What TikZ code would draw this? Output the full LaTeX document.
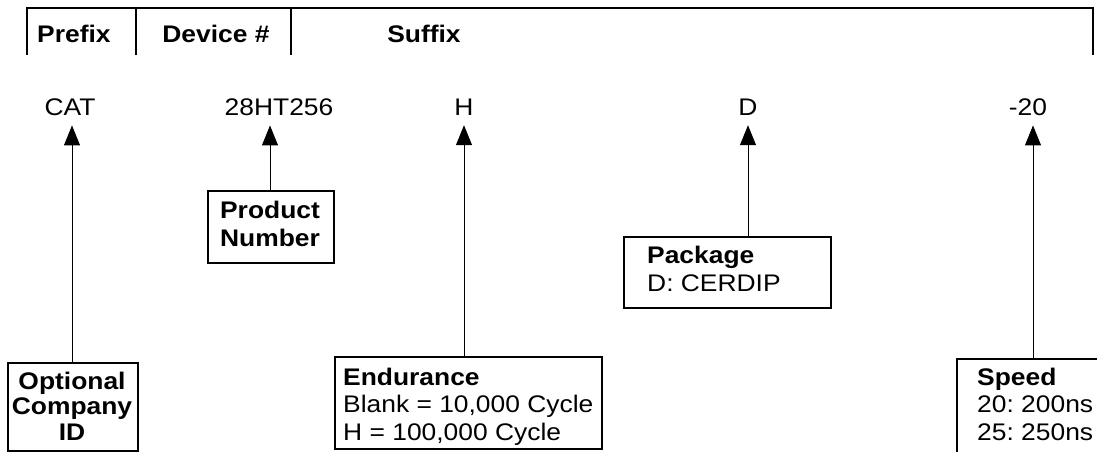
\documentclass[tikz,border=0pt]{standalone}
\usepackage{fontspec}
\setmainfont{Liberation Sans}[FakeStretch=1.1]
\usetikzlibrary{arrows.meta}
\begin{document}
\frenchspacing
\begin{tikzpicture}[x=1pt,y=-1pt,
  txt/.style={font=\fontsize{24}{27}\selectfont, inner sep=0pt, anchor=base west},
  btxt/.style={font=\fontsize{24}{27}\selectfont\bfseries, inner sep=0pt, anchor=base west},
  ctr/.style={font=\fontsize{24}{27}\selectfont\bfseries, inner sep=0pt, anchor=base},
  code/.style={font=\fontsize{24}{27}\selectfont, inner sep=0pt, anchor=base},
  rule/.style={line width=2.6pt},
  frame/.style={draw, line width=2pt, inner sep=0pt, anchor=north west},
  boxline/.style={line width=2pt},
  arr/.style={-{Triangle[length=20pt,width=16pt]}, line width=1pt, shorten >=10pt}]
\useasboundingbox (0,0) rectangle (1097,452);
% header
\draw[rule] (27,55) -- (27,8) -- (1093,8) -- (1093,55);
\draw[rule] (136,8) -- (136,55);
\draw[rule] (291,8) -- (291,55);
\node[btxt] (prefix) at (37,43) {Prefix};
\node[ctr] (device) at (216,43) {Device \#};
\node[ctr] (suffix) at (424,43) {Suffix};
% codes
\node[code] (cat) at (70,115) {CAT};
\node[code] (num) at (279,115) {28HT256};
\node[code] (h) at (464,115) {H};
\node[code] (d) at (748,115) {D};
\node[code] (spd) at (1028,115) {-20};
% Optional Company ID
\node[frame, minimum width=130pt, minimum height=88pt] (comp) at (7,362) {};
\node[ctr] (comp1) at (72,389) {Optional};
\node[ctr] (comp2) at (72,414.5) {Company};
\node[ctr] (comp3) at (72,440) {ID};
% Product Number
\node[frame, minimum width=126pt, minimum height=72pt] (prod) at (207,190) {};
\node[ctr] (prod1) at (270,218) {Product};
\node[ctr] (prod2) at (270,246) {Number};
% Package
\node[frame, minimum width=207pt, minimum height=71pt] (pkg) at (623,236) {};
\node[btxt] (pkg1) at (647,263) {Package};
\node[txt] (pkg2) at (647,291) {D: CERDIP};
% Endurance
\node[frame, minimum width=267pt, minimum height=92pt] (end) at (334,356) {};
\node[btxt] (end1) at (343,385) {Endurance};
\node[txt] (end2) at (343,412.5) {Blank = 10,000 Cycle};
\node[txt] (end3) at (343,440) {H = 100,000 Cycle};
% Speed (open to the right and bottom)
\node[inner sep=0pt, minimum width=160pt, minimum height=100pt, anchor=north west] (speed) at (957,359) {};
\draw[boxline] (speed.south west) -- (speed.north west) -- (speed.north east);
\node[btxt] (sp1) at (977,385) {Speed};
\node[txt] (sp2) at (977,412.5) {20: 200ns};
\node[txt] (sp3) at (977,440) {25: 250ns};
% arrows
\draw[arr] ([xshift=2pt]cat.south |- comp.north) -- ([xshift=2pt]cat.south);
\draw[arr] ([xshift=-9pt]num.south |- prod.north) -- ([xshift=-9pt]num.south);
\draw[arr] (h.south |- end.north) -- (h.south);
\draw[arr] (d.south |- pkg.north) -- (d.south);
\draw[arr] ([xshift=5pt]spd.south |- speed.north) -- ([xshift=5pt]spd.south);
\end{tikzpicture}
\end{document}
